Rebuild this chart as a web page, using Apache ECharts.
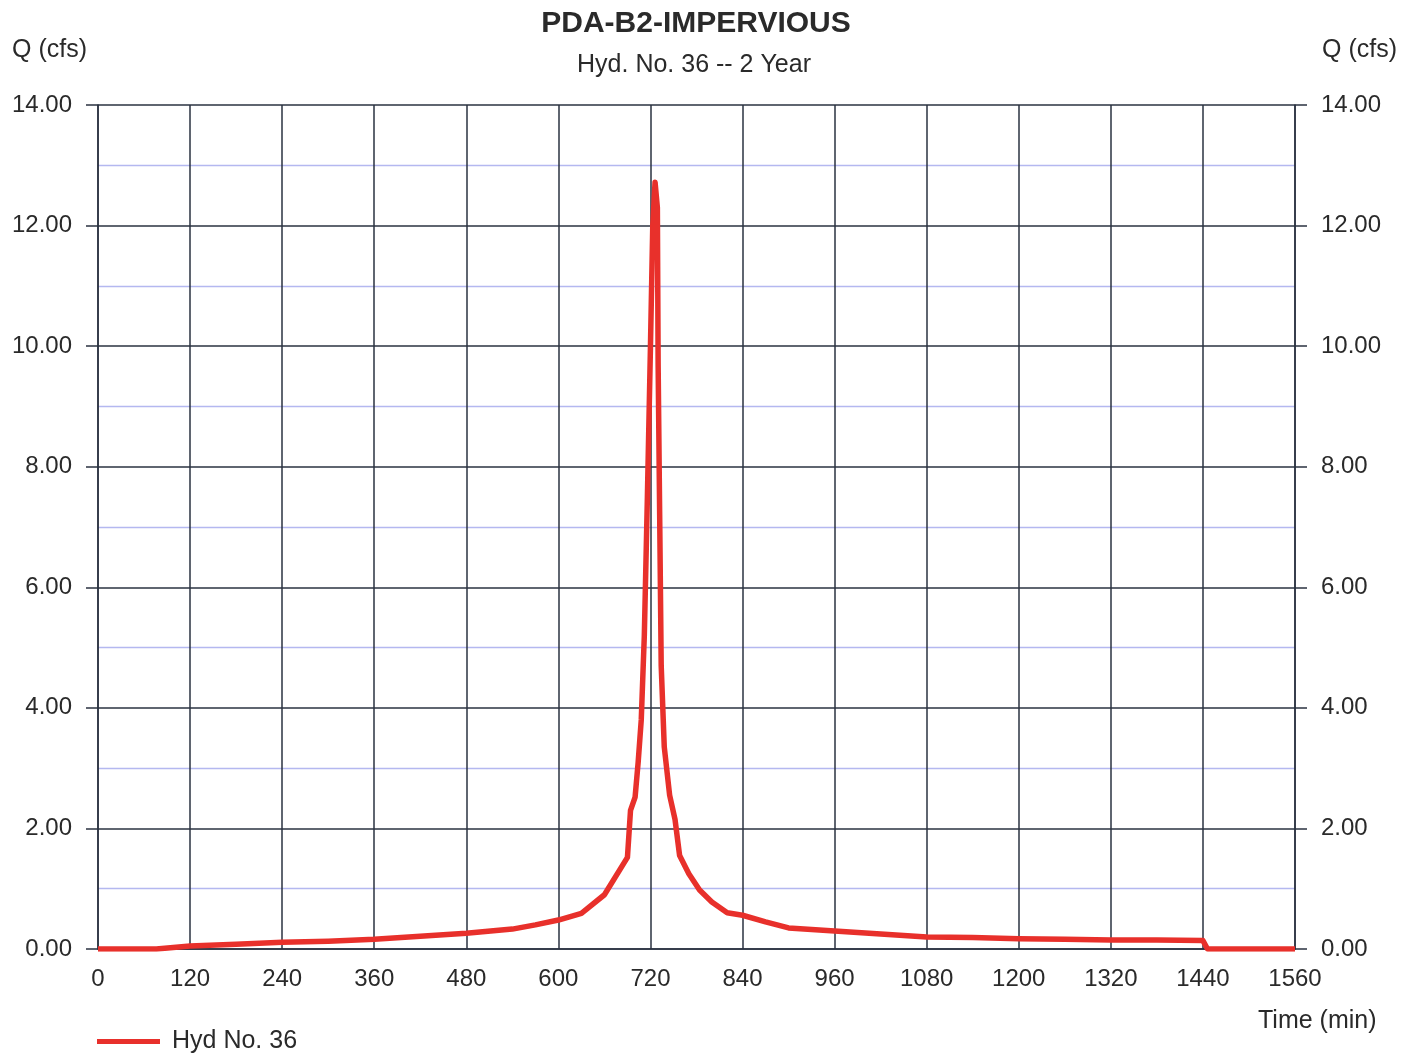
<!DOCTYPE html>
<html>
<head>
<meta charset="utf-8">
<script src="https://cdn.jsdelivr.net/npm/echarts@6/dist/echarts.min.js"></script>
<style>
html,body{margin:0;padding:0;background:#fff;}
#chart{width:1415px;height:1053px;}
</style>
</head>
<body>
<div id="chart"></div>
<script>
// ---- Data ----
const chartTitle = 'PDA-B2-IMPERVIOUS';
const chartSubtitle = 'Hyd. No. 36 -- 2 Year';
const seriesName = 'Hyd No. 36';
const xTickValues = [0,120,240,360,480,600,720,840,960,1080,1200,1320,1440,1560];
const yTickValues = [0,2,4,6,8,10,12,14];
const timeMin = [0,60,76,120,180,240,300,360,420,480,540,570,600,630,660,690,694,700,704,708,712,716,720,723,726,729,730,732,734,738,745,752,758,770,784,800,820,840,870,900,960,1020,1080,1140,1200,1260,1320,1380,1440,1446,1500,1560];
const flowCfs = [0,0,0,0.05,0.08,0.11,0.13,0.16,0.21,0.26,0.33,0.40,0.48,0.59,0.90,1.52,2.30,2.52,3.10,3.80,5.20,7.50,10.00,12.00,12.72,12.30,9.70,7.20,4.70,3.35,2.55,2.15,1.55,1.25,0.98,0.78,0.60,0.56,0.45,0.35,0.30,0.25,0.20,0.19,0.17,0.16,0.15,0.15,0.14,0,0,0];

const pts = timeMin.map((t,i)=>[t, flowCfs[i]]);

const FONT = '"Liberation Sans", Arial, sans-serif';
const TXT = '#2a2a2a';
const DARK = '#2a3240';
const MINOR = '#b4b8f0';
const RED = '#e8302b';

const chart = echarts.init(document.getElementById('chart'), null, {renderer:'canvas'});

const yAxisCommon = {
  type: 'value', min: 0, max: 14, interval: 2,
  axisLine: {show: true, lineStyle: {color: DARK, width: 1.5}},
  axisTick: {show: true, length: 12, inside: false, lineStyle: {color: DARK, width: 1.5}},
  axisLabel: {fontSize: 24, color: TXT, fontFamily: FONT, margin: 26, formatter: v => v.toFixed(2)},
  minorTick: {show: false, splitNumber: 2},
};

chart.setOption({
  animation: false,
  backgroundColor: '#fff',
  title: [
    {text: chartTitle, left: 696, top: 9, textAlign: 'center', padding: 0,
     textStyle: {fontSize: 30, fontWeight: 'bold', color: TXT, fontFamily: FONT}},
    {text: chartSubtitle, left: 694, top: 53, textAlign: 'center', padding: 0,
     textStyle: {fontSize: 25, fontWeight: 'normal', color: TXT, fontFamily: FONT}}
  ],
  grid: {left: 98, right: 120, top: 105, bottom: 104, containLabel: false},
  legend: {
    data: [{name: seriesName, icon: 'rect'}],
    left: 97, top: 1029, padding: 0, itemWidth: 63, itemHeight: 5, itemGap: 10,
    textStyle: {fontSize: 25, color: TXT, fontFamily: FONT, padding: [0,0,0,7]}
  },
  graphic: [
    {type: 'text', left: 12, top: 38, style: {text: 'Q (cfs)', fontSize: 25, fill: TXT, fontFamily: FONT}},
    {type: 'text', right: 18, top: 38, style: {text: 'Q (cfs)', fontSize: 25, fill: TXT, fontFamily: FONT}},
    {type: 'text', left: 1258, top: 1009, style: {text: 'Time (min)', fontSize: 25, fill: TXT, fontFamily: FONT}}
  ],
  xAxis: {
    type: 'value', min: 0, max: 1560, interval: 120,
    axisLine: {show: true, lineStyle: {color: DARK, width: 1.5}},
    axisTick: {show: false},
    axisLabel: {fontSize: 24, color: TXT, fontFamily: FONT, margin: 18,
      customValues: xTickValues, formatter: v => String(v)},
    splitLine: {show: true, lineStyle: {color: DARK, width: 1.5}}
  },
  yAxis: [
    Object.assign({}, yAxisCommon, {
      position: 'left',
      splitLine: {show: true, lineStyle: {color: DARK, width: 1.5}},
      minorSplitLine: {show: true, lineStyle: {color: MINOR, width: 1.3}}
    }),
    Object.assign({}, yAxisCommon, {
      position: 'right',
      splitLine: {show: false},
      minorSplitLine: {show: false}
    })
  ],
  series: [{
    name: seriesName, type: 'line', data: pts, yAxisIndex: 0,
    symbol: 'none', smooth: false,
    lineStyle: {color: RED, width: 5.5, join: 'round'},
    itemStyle: {color: RED},
    z: 5
  }]
});
</script>
</body>
</html>
